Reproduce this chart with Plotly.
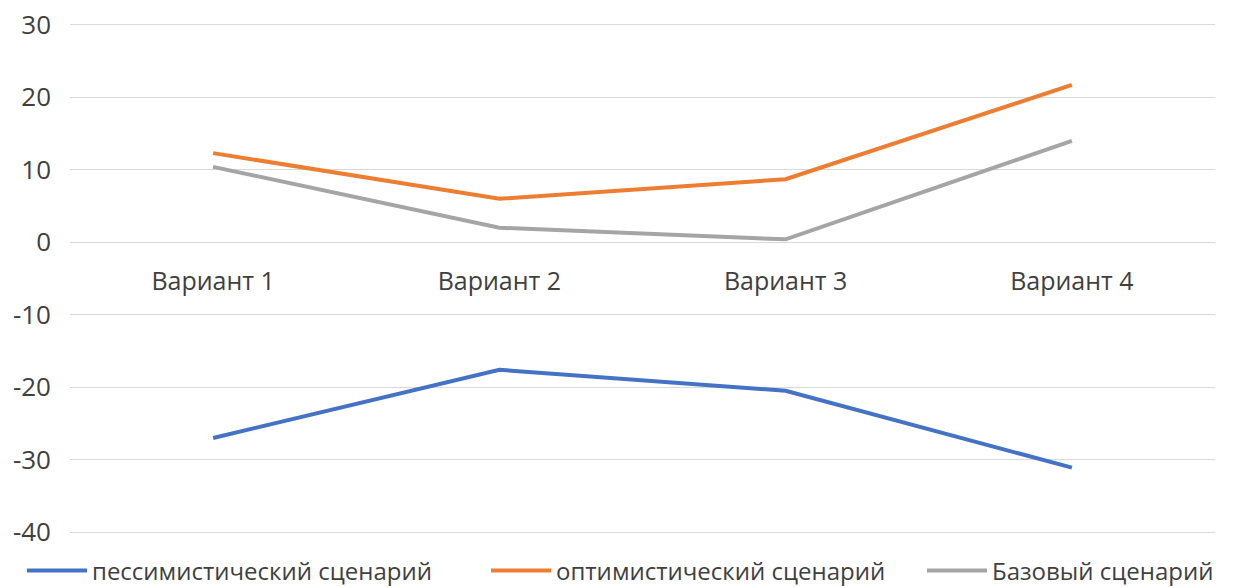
import plotly.graph_objects as go

categories = ["Вариант 1", "Вариант 2", "Вариант 3", "Вариант 4"]
pessimistic = [-27.0, -17.6, -20.5, -31.1]
optimistic = [12.3, 6.0, 8.7, 21.7]
base = [10.4, 2.0, 0.4, 14.0]
series_names = ["пессимистический сценарий", "оптимистический сценарий", "Базовый сценарий"]
y_ticks = [-40, -30, -20, -10, 0, 10, 20, 30]
y_tick_text = ["-40", "-30", "-20", "-10", "0", "10", "20", "30"]

W, H = 1234, 587
ML, MR, MT, MB = 70, 19, 23, 53
pw = W - ML - MR
ph = H - MT - MB

colors = ["#4472C4", "#ED7D31", "#A5A5A5"]
data = [pessimistic, optimistic, base]
legend_px = [22, 486, 922]
legend_ids = ["legend", "legend2", "legend3"]
FONT = "Open Sans"
TXT = "#3F3F3F"

fig = go.Figure()
for name, vals, col, lid in zip(series_names, data, colors, legend_ids):
    fig.add_trace(go.Scatter(x=categories, y=vals, name=name, mode="lines",
                             line=dict(color=col, width=4), legend=lid))

leg_y = (MT + ph - 571) / ph
layout_legends = {}
for lid, px in zip(legend_ids, legend_px):
    layout_legends[lid] = dict(x=(px - ML) / pw, xanchor="left", y=leg_y, yanchor="middle",
                               orientation="h", bgcolor="rgba(0,0,0,0)",
                               font=dict(family=FONT, size=24, color=TXT),
                               itemwidth=60)

eps = 0.25
zero_pos = (0 - (-40 - eps)) / (70.0 + 2 * eps)

fig.update_layout(
    width=W, height=H,
    margin=dict(l=ML, r=MR, t=MT, b=MB, autoexpand=False),
    paper_bgcolor="white", plot_bgcolor="white",
    font=dict(family=FONT, size=24, color=TXT),
    showlegend=True,
    xaxis=dict(type="category", anchor="free", position=zero_pos,
               showgrid=False, showline=False, zeroline=False,
               ticks="", ticklabelstandoff=22,
               tickfont=dict(family=FONT, size=25, color=TXT),
               range=[-0.5, 3.5]),
    yaxis=dict(range=[-40 - eps, 30 + eps], tickvals=y_ticks, ticktext=y_tick_text,
               showgrid=True, gridcolor="#D9D9D9", gridwidth=1.3,
               zeroline=False, showline=False,
               ticks="", ticklabelstandoff=18,
               tickfont=dict(family=FONT, size=26, color=TXT)),
    **layout_legends,
)

fig.write_html("out.html")
